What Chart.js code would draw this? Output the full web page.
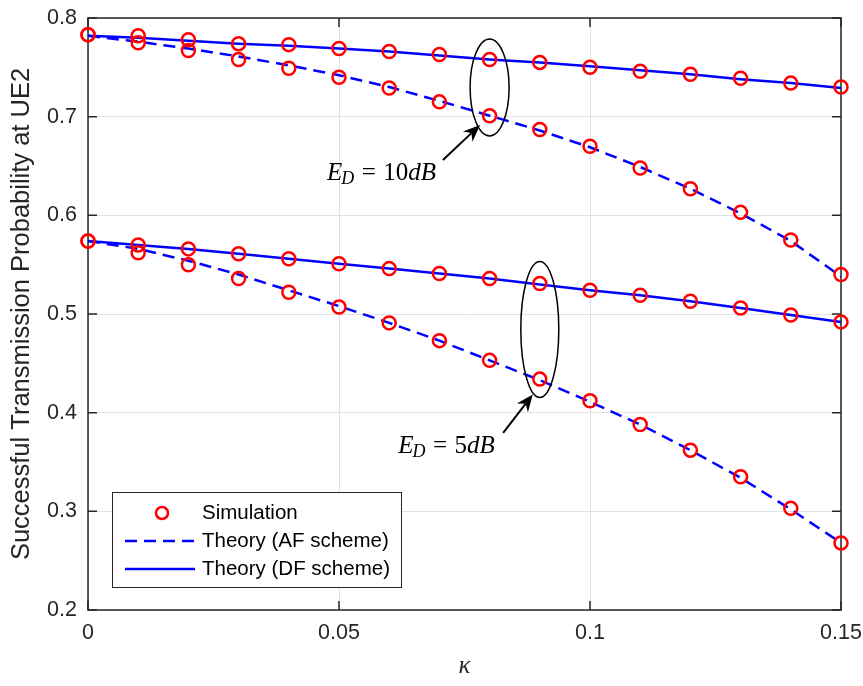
<!DOCTYPE html>
<html>
<head>
<meta charset="utf-8">
<script src="https://cdn.jsdelivr.net/npm/chart.js@4.4.1/dist/chart.umd.min.js"></script>
<style>
  body { margin: 0; background: #fff; }
  canvas { display: block; }
</style>
</head>
<body>
<canvas id="myChart" width="863" height="686"></canvas>
<script>
// kappa values on the x axis
var kappa = [0, 0.01, 0.02, 0.03, 0.04, 0.05, 0.06, 0.07, 0.08, 0.09, 0.1, 0.11, 0.12, 0.13, 0.14, 0.15];

// simulation (red circles)
var simDF10 = [0.783, 0.782, 0.778, 0.774, 0.773, 0.769, 0.766, 0.763, 0.758, 0.755, 0.750, 0.746, 0.743, 0.739, 0.734, 0.730];
var simAF10 = [0.783, 0.775, 0.767, 0.758, 0.749, 0.740, 0.729, 0.715, 0.701, 0.687, 0.670, 0.648, 0.627, 0.603, 0.575, 0.540];
var simDF5  = [0.574, 0.570, 0.566, 0.561, 0.556, 0.551, 0.546, 0.541, 0.536, 0.531, 0.524, 0.519, 0.513, 0.506, 0.499, 0.492];
var simAF5  = [0.574, 0.562, 0.550, 0.536, 0.522, 0.507, 0.491, 0.473, 0.453, 0.434, 0.412, 0.388, 0.362, 0.335, 0.303, 0.268];

// theory curves
var thAF10 = [0.782, 0.776, 0.769, 0.761, 0.752, 0.742, 0.730, 0.716, 0.701, 0.686, 0.669, 0.649, 0.627, 0.602, 0.574, 0.538];
var thDF10 = [0.782, 0.780, 0.777, 0.774, 0.772, 0.769, 0.766, 0.762, 0.758, 0.755, 0.751, 0.747, 0.743, 0.738, 0.734, 0.729];
var thAF5  = [0.574, 0.566, 0.554, 0.540, 0.524, 0.508, 0.491, 0.473, 0.453, 0.433, 0.411, 0.388, 0.362, 0.334, 0.302, 0.268];
var thDF5  = [0.574, 0.570, 0.566, 0.561, 0.556, 0.551, 0.546, 0.541, 0.536, 0.530, 0.524, 0.519, 0.513, 0.506, 0.499, 0.492];

var xTicks = [0, 0.05, 0.1, 0.15];
var xTickLabels = ['0', '0.05', '0.1', '0.15'];
var yTicks = [0.2, 0.3, 0.4, 0.5, 0.6, 0.7, 0.8];
var yTickLabels = ['0.2', '0.3', '0.4', '0.5', '0.6', '0.7', '0.8'];

var legendLabels = ['Simulation', 'Theory (AF scheme)', 'Theory (DF scheme)'];

var axisColor = '#262626';
var sans = "'Liberation Sans', Arial, Helvetica, sans-serif";
var serif = "'Liberation Serif', 'Times New Roman', 'DejaVu Serif', serif";

function xy(ys) {
    return kappa.map(function (k, i) { return { x: k, y: ys[i] }; });
}

function simSet(ys) {
    return {
        data: xy(ys),
        showLine: false,
        pointStyle: 'circle',
        pointRadius: 6.5,
        pointBorderWidth: 2.5,
        pointBorderColor: '#ff0000',
        pointBackgroundColor: 'rgba(0,0,0,0)',
        clip: false
    };
}

function theorySet(ys, dashed) {
    return {
        data: xy(ys),
        borderColor: '#0000ff',
        borderWidth: 2.5,
        borderDash: dashed ? [12, 7] : [],
        pointRadius: 0,
        tension: 0,
        fill: false
    };
}

// annotation spots (data coordinates)
var ellipses = [
    { x: 0.08, y: 0.7296, rx: 19.5, ry: 48.5 },
    { x: 0.09, y: 0.4844, rx: 19, ry: 68 }
];
var arrows = [
    { x1: 0.0707, y1: 0.6561, x2: 0.0781, y2: 0.6916 },
    { x1: 0.0827, y1: 0.3795, x2: 0.0886, y2: 0.4185 }
];
var notes = [
    { x: 0.0476, y: 0.6359, value: '10' },
    { x: 0.0618, y: 0.3593, value: '5' }
];

function drawArrow(ctx, x1, y1, x2, y2) {
    var dx = x2 - x1, dy = y2 - y1;
    var len = Math.sqrt(dx * dx + dy * dy);
    var ux = dx / len, uy = dy / len;
    var nx = -uy, ny = ux;
    var L = 17, W = 7;
    ctx.save();
    ctx.strokeStyle = '#000';
    ctx.fillStyle = '#000';
    ctx.lineWidth = 2;
    ctx.beginPath();
    ctx.moveTo(x1, y1);
    ctx.lineTo(x2 - 0.7 * L * ux, y2 - 0.7 * L * uy);
    ctx.stroke();
    ctx.beginPath();
    ctx.moveTo(x2, y2);
    ctx.lineTo(x2 - L * ux + W * nx, y2 - L * uy + W * ny);
    ctx.lineTo(x2 - 0.7 * L * ux, y2 - 0.7 * L * uy);
    ctx.lineTo(x2 - L * ux - W * nx, y2 - L * uy - W * ny);
    ctx.closePath();
    ctx.fill();
    ctx.restore();
}

function drawNote(ctx, x, y, value) {
    var fs = 25;
    ctx.save();
    ctx.fillStyle = '#000';
    ctx.textBaseline = 'alphabetic';
    ctx.textAlign = 'left';
    ctx.font = 'italic ' + fs + 'px ' + serif;
    ctx.fillText('E', x, y);
    x += ctx.measureText('E').width - 1;
    ctx.font = 'italic ' + Math.round(fs * 0.7) + 'px ' + serif;
    ctx.fillText('D', x, y + 4);
    x += ctx.measureText('D').width + fs * 0.3;
    ctx.font = fs + 'px ' + serif;
    ctx.fillText('=', x, y);
    x += ctx.measureText('=').width + fs * 0.3;
    ctx.fillText(value, x, y);
    x += ctx.measureText(value).width;
    ctx.font = 'italic ' + fs + 'px ' + serif;
    ctx.fillText('dB', x, y);
    ctx.restore();
}

function noPad(s) {
    s.paddingTop = 0;
    s.paddingBottom = 0;
    s.paddingLeft = 0;
    s.paddingRight = 0;
}

var decor = {
    id: 'decor',
    beforeDatasetsDraw: function (chart) {
        var ctx = chart.ctx, a = chart.chartArea;
        var xs = chart.scales.x, ys = chart.scales.y;
        ctx.save();
        ctx.strokeStyle = axisColor;
        ctx.lineWidth = 1.5;
        ctx.strokeRect(a.left, a.top, a.right - a.left, a.bottom - a.top);
        ctx.beginPath();
        xTicks.forEach(function (v) {
            var px = xs.getPixelForValue(v);
            ctx.moveTo(px, a.bottom); ctx.lineTo(px, a.bottom - 9);
            ctx.moveTo(px, a.top); ctx.lineTo(px, a.top + 9);
        });
        yTicks.forEach(function (v) {
            var py = ys.getPixelForValue(v);
            ctx.moveTo(a.left, py); ctx.lineTo(a.left + 9, py);
            ctx.moveTo(a.right, py); ctx.lineTo(a.right - 9, py);
        });
        ctx.stroke();
        ctx.restore();
    },
    afterDatasetsDraw: function (chart) {
        var ctx = chart.ctx, a = chart.chartArea;
        var xs = chart.scales.x, ys = chart.scales.y;
        ctx.save();

        // ellipses
        ctx.strokeStyle = '#000';
        ctx.lineWidth = 1.5;
        ellipses.forEach(function (e) {
            ctx.beginPath();
            ctx.ellipse(xs.getPixelForValue(e.x), ys.getPixelForValue(e.y), e.rx, e.ry, 0, 0, Math.PI * 2);
            ctx.stroke();
        });

        arrows.forEach(function (r) {
            drawArrow(ctx, xs.getPixelForValue(r.x1), ys.getPixelForValue(r.y1),
                xs.getPixelForValue(r.x2), ys.getPixelForValue(r.y2));
        });

        notes.forEach(function (n) {
            drawNote(ctx, xs.getPixelForValue(n.x), ys.getPixelForValue(n.y), n.value);
        });

        // legend
        var lx = a.left + 24, ly = a.bottom - 118, lw = 289, lh = 95;
        ctx.fillStyle = '#fff';
        ctx.fillRect(lx, ly, lw, lh);
        ctx.strokeStyle = axisColor;
        ctx.lineWidth = 1;
        ctx.strokeRect(lx + 0.5, ly + 0.5, lw, lh);
        var rows = [ly + 21, ly + 49, ly + 77];
        ctx.strokeStyle = '#ff0000';
        ctx.lineWidth = 2.5;
        ctx.beginPath();
        ctx.arc(lx + 50, rows[0], 6, 0, Math.PI * 2);
        ctx.stroke();
        ctx.strokeStyle = '#0000ff';
        ctx.setLineDash([12, 7]);
        ctx.beginPath();
        ctx.moveTo(lx + 13, rows[1]); ctx.lineTo(lx + 83, rows[1]);
        ctx.stroke();
        ctx.setLineDash([]);
        ctx.beginPath();
        ctx.moveTo(lx + 13, rows[2]); ctx.lineTo(lx + 83, rows[2]);
        ctx.stroke();
        ctx.fillStyle = '#000';
        ctx.font = '20.5px ' + sans;
        ctx.textBaseline = 'middle';
        ctx.textAlign = 'left';
        legendLabels.forEach(function (t, i) {
            ctx.fillText(t, lx + 90, rows[i]);
        });

        // axis titles
        ctx.fillStyle = axisColor;
        ctx.font = '25.5px ' + sans;
        ctx.textAlign = 'center';
        ctx.textBaseline = 'middle';
        ctx.save();
        ctx.translate(22, (a.top + a.bottom) / 2);
        ctx.rotate(-Math.PI / 2);
        ctx.fillText('Successful Transmission Probability at UE2', 0, 0);
        ctx.restore();
        ctx.font = 'italic 25px ' + serif;
        ctx.fillText('\u03BA', (a.left + a.right) / 2, 666);

        ctx.restore();
    }
};

var ctx = document.getElementById('myChart');
var myChart = new Chart(ctx, {
    type: 'line',
    data: {
        datasets: [
            simSet(simDF10), simSet(simAF10), simSet(simDF5), simSet(simAF5),
            theorySet(thAF10, true), theorySet(thDF10, false),
            theorySet(thAF5, true), theorySet(thDF5, false)
        ]
    },
    options: {
        responsive: false,
        animation: false,
        devicePixelRatio: 1,
        layout: { padding: { left: 0, top: 18, right: 22, bottom: 0 } },
        plugins: {
            legend: { display: false },
            tooltip: { enabled: false }
        },
        scales: {
            x: {
                type: 'linear',
                min: 0,
                max: 0.15,
                afterBuildTicks: function (s) { s.ticks = xTicks.map(function (v) { return { value: v }; }); },
                afterFit: function (s) { s.height = 76; noPad(s); },
                ticks: {
                    padding: 10,
                    color: axisColor,
                    font: { family: sans, size: 21.5 },
                    maxRotation: 0,
                    callback: function (v) { return xTickLabels[xTicks.indexOf(v)]; }
                },
                grid: { color: '#e2e2e2', lineWidth: 1, drawTicks: false },
                border: { display: false }
            },
            y: {
                type: 'linear',
                min: 0.2,
                max: 0.8,
                afterBuildTicks: function (s) { s.ticks = yTicks.map(function (v) { return { value: v }; }); },
                afterFit: function (s) { s.width = 88; noPad(s); },
                ticks: {
                    padding: 11,
                    color: axisColor,
                    font: { family: sans, size: 21.5 },
                    callback: function (v) { return yTickLabels[yTicks.indexOf(v)]; }
                },
                grid: { color: '#e2e2e2', lineWidth: 1, drawTicks: false },
                border: { display: false }
            }
        }
    },
    plugins: [decor]
});
</script>
</body>
</html>
